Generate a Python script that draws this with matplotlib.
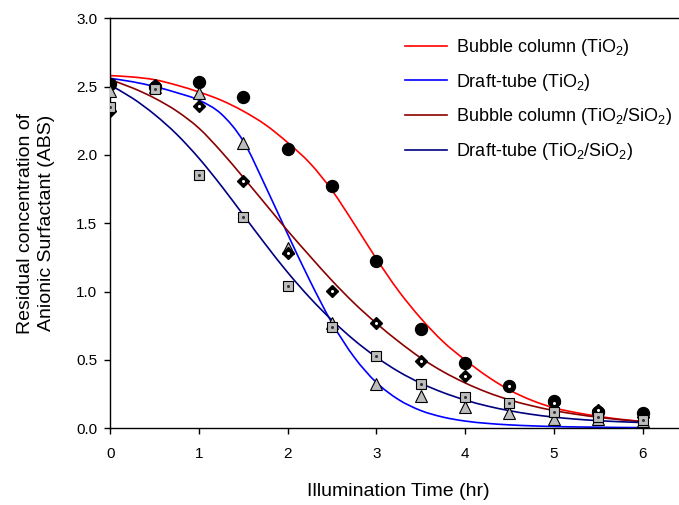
import numpy as np
import matplotlib
matplotlib.use("Agg")
import matplotlib.pyplot as plt
from matplotlib.lines import Line2D
from matplotlib.path import Path
from matplotlib.patches import PathPatch

plt.rcParams['font.family'] = ['Liberation Sans', 'DejaVu Sans']
plt.rcParams['mathtext.fontset'] = 'custom'
plt.rcParams['mathtext.rm'] = 'Liberation Sans'
plt.rcParams['mathtext.it'] = 'Liberation Sans:italic'

# ---- measured points
t_pts = [0, 0.5, 1, 1.5, 2, 2.5, 3, 3.5, 4, 4.5, 5, 5.5, 6]
bubble_tio2 = [2.52, 2.50, 2.535, 2.42, 2.04, 1.775, 1.224, 0.726, 0.48, 0.31, 0.20, 0.12, 0.114]
draft_tio2 = [2.47, 2.50, 2.45, 2.085, 1.317, 0.77, 0.324, 0.236, 0.158, 0.11, 0.07, 0.07, 0.05]
bubble_tio2_sio2 = [2.32, 2.51, 2.36, 1.81, 1.28, 1.007, 0.768, 0.495, 0.385, 0.31, 0.185, 0.134, 0.08]
draft_tio2_sio2 = [2.35, 2.48, 1.853, 1.543, 1.041, 0.739, 0.531, 0.322, 0.231, 0.183, 0.12, 0.085, 0.061]

# ---- fitted curves, every 0.25 hr
t_fit = [0, 0.25, 0.5, 0.75, 1, 1.25, 1.5, 1.75, 2, 2.25, 2.5, 2.75, 3,
         3.25, 3.5, 3.75, 4, 4.25, 4.5, 4.75, 5, 5.25, 5.5, 5.75, 6]
fit_bubble_tio2 = [2.58, 2.57, 2.55, 2.51, 2.46, 2.40, 2.32, 2.22, 2.09, 1.94, 1.74, 1.495, 1.24,
                   1.005, 0.805, 0.635, 0.50, 0.38, 0.28, 0.205, 0.15, 0.115, 0.088, 0.066, 0.05]
fit_draft_tio2 = [2.56, 2.535, 2.50, 2.455, 2.40, 2.30, 2.10, 1.77, 1.42, 1.08, 0.77, 0.52, 0.335,
                  0.21, 0.13, 0.082, 0.053, 0.036, 0.025, 0.018, 0.013, 0.01, 0.008, 0.006, 0.005]
fit_bubble_tio2_sio2 = [2.55, 2.49, 2.415, 2.32, 2.195, 2.025, 1.835, 1.64, 1.445, 1.26, 1.08, 0.915, 0.768,
                        0.635, 0.515, 0.415, 0.332, 0.263, 0.208, 0.165, 0.13, 0.103, 0.081, 0.063, 0.049]
fit_draft_tio2_sio2 = [2.51, 2.415, 2.295, 2.15, 1.975, 1.775, 1.56, 1.345, 1.14, 0.955, 0.79, 0.645, 0.52,
                       0.415, 0.33, 0.262, 0.207, 0.163, 0.129, 0.102, 0.082, 0.067, 0.056, 0.048, 0.042]

labels = ['Bubble column (TiO$_2$)', 'Draft-tube (TiO$_2$)',
          'Bubble column (TiO$_2$/SiO$_2$)', 'Draft-tube (TiO$_2$/SiO$_2$)']
colors = ['#ff0000', '#0000ff', '#8b0000', '#000080']


def smooth_path(xs, ys):
    # Catmull-Rom through the read points, drawn as cubic Bezier segments
    p = np.column_stack([xs, ys]).astype(float)
    p = np.vstack([p[0], p, p[-1]])
    verts = [p[1]]
    codes = [Path.MOVETO]
    for i in range(1, len(p) - 2):
        c1 = p[i] + (p[i + 1] - p[i - 1]) / 6.0
        c2 = p[i + 1] - (p[i + 2] - p[i]) / 6.0
        verts += [c1, c2, p[i + 1]]
        codes += [Path.CURVE4] * 3
    return Path(verts, codes)


W, H = 679, 505
fig = plt.figure(figsize=(W / 100, H / 100), dpi=100)
x0, x6 = 110.3, 642.5
ppx = (x6 - x0) / 6.0
# axes runs on to 6.5 hr, past the right edge of the picture
ax = fig.add_axes([x0 / W, (H - 428.3) / H, 6.5 * ppx / W, (428.3 - 18.2) / H])

fits = [fit_bubble_tio2, fit_draft_tio2, fit_bubble_tio2_sio2, fit_draft_tio2_sio2]
for f, c in zip(fits, colors):
    ax.add_patch(PathPatch(smooth_path(t_fit, f), facecolor='none', edgecolor=c,
                           lw=1.2, zorder=2))

gray = '#bdbdbd'
ax.plot(t_pts, bubble_tio2, 'o', ms=8.6, color='black', zorder=3)
ax.plot(t_pts, draft_tio2, '^', ms=9, mfc=gray, mec='black', mew=0.8, zorder=4)
ax.plot(t_pts, bubble_tio2_sio2, 'D', ms=6.3, mfc='black', mec='black', zorder=5)
ax.plot(t_pts, bubble_tio2_sio2, 'o', ms=2.2, mfc='white', mec='white', mew=0, zorder=5.1)
ax.plot(t_pts, draft_tio2_sio2, 's', ms=7.6, mfc=gray, mec='black', mew=0.8, zorder=6)
ax.plot(t_pts, draft_tio2_sio2, 'o', ms=2.2, mfc='#333333', mec='#333333', mew=0, zorder=6.1)

ax.set_xlim(0, 6.5)
ax.set_ylim(0, 3.0)
ax.set_xticks(range(0, 7))
ax.set_yticks(np.arange(0, 3.01, 0.5))
ax.set_yticklabels(['%.1f' % v for v in np.arange(0, 3.01, 0.5)])
ax.spines['right'].set_visible(False)
for s in ax.spines.values():
    s.set_linewidth(1.0)
ax.tick_params(direction='out', length=4.5, width=1.0, labelsize=11, top=False, right=False)
ax.tick_params(axis='x', pad=9)
ax.tick_params(axis='y', pad=5)

ax.set_xlabel('Illumination Time (hr)', fontsize=14, labelpad=16)
fig.text(36 / W, 1 - 223 / H, 'Residual concentration of\nAnionic Surfactant (ABS)',
         rotation=90, ha='center', va='center', multialignment='center', fontsize=14,
         linespacing=1.25)

handles = [Line2D([0], [0], color=c, lw=1.2) for c in colors]
ax.legend(handles, labels, loc='upper left', bbox_to_anchor=(405 / W, 1 - 37 / H),
          bbox_transform=fig.transFigure, frameon=False, fontsize=13,
          handlelength=2.33, handletextpad=0.5, labelspacing=0.76,
          borderaxespad=0, borderpad=0)

fig.savefig('out.png', dpi=100)
